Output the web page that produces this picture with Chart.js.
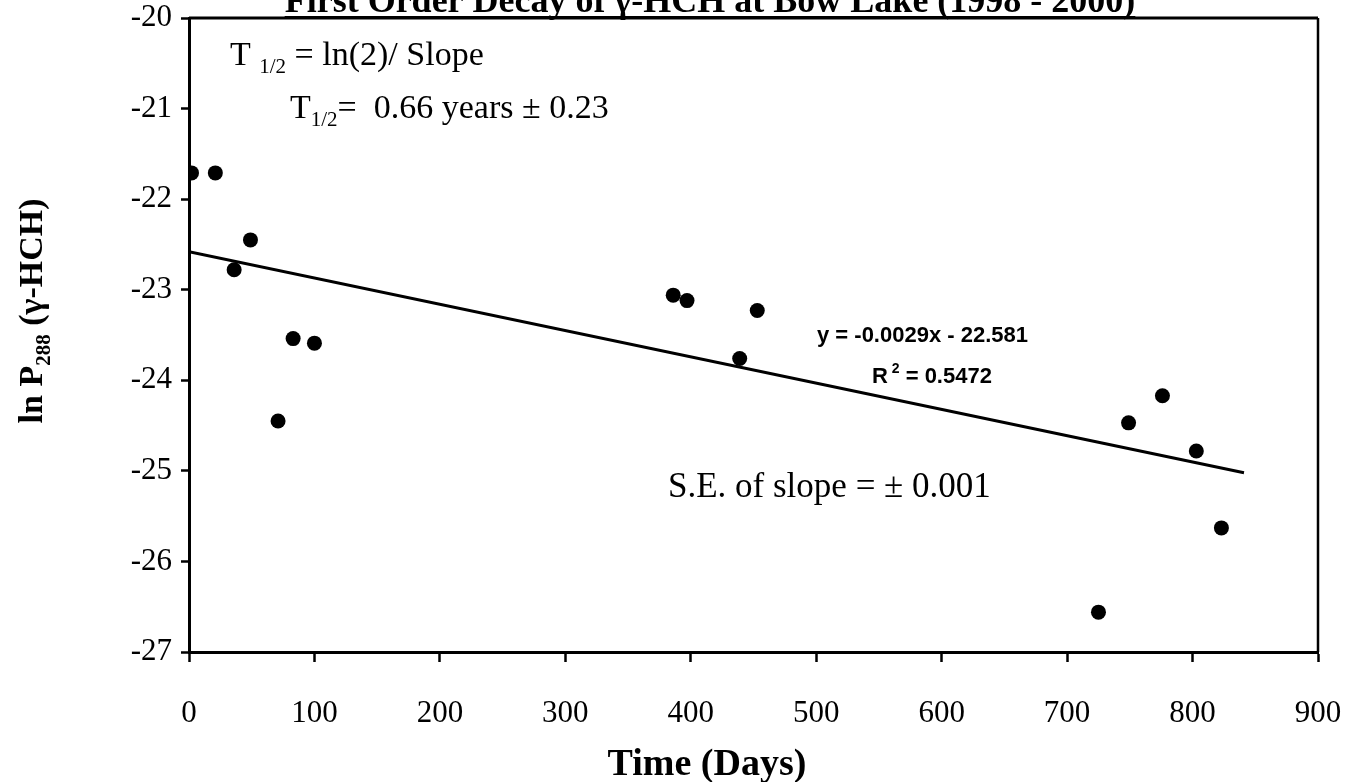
<!DOCTYPE html>
<html>
<head>
<meta charset="utf-8">
<title>First Order Decay of γ-HCH at Bow Lake</title>
<script src="https://cdn.jsdelivr.net/npm/chart.js@4/dist/chart.umd.min.js"></script>
<style>
  html, body { margin: 0; padding: 0; background: #fff; }
  #wrap { width: 1346px; height: 782px; position: relative; }
</style>
</head>
<body>
<div id="wrap"><canvas id="chart"></canvas></div>
<script>
// ── Data ─────────────────────────────────────────────────────
const days = [2, 21, 36, 49, 71, 83, 100, 386, 397, 439, 453, 725, 749, 776, 803, 823];
const lnP288 = [-21.71, -21.71, -22.78, -22.45, -24.45, -23.54, -23.59, -23.06, -23.12, -23.76, -23.23, -26.56, -24.47, -24.17, -24.78, -25.63];
const xTicks = [0, 100, 200, 300, 400, 500, 600, 700, 800, 900];
const yTicks = [-27, -26, -25, -24, -23, -22, -21, -20];

// regression shown on the figure: y = -0.0029x - 22.581
const slope = -0.0029;
const intercept = -22.581;
const fitRange = [0, 841];

const SERIF = '"Liberation Serif", "Times New Roman", serif';
const SANS = '"Liberation Sans", Arial, sans-serif';

// ── Text helpers ─────────────────────────────────────────────
// draw a run of [text, font, dy] pieces starting at x
function drawRuns(ctx, x, y, runs) {
    runs.forEach(([text, font, dy]) => {
        ctx.font = font;
        ctx.fillText(text, x, y + (dy || 0));
        x += ctx.measureText(text).width;
    });
    return x;
}
function runsWidth(ctx, runs) {
    let w = 0;
    runs.forEach(([text, font]) => { ctx.font = font; w += ctx.measureText(text).width; });
    return w;
}

// ── Frame + annotations plugin ───────────────────────────────
const decorPlugin = {
    id: 'decor',
    afterDraw(chart) {
        const { ctx, chartArea: a } = chart;
        ctx.save();
        ctx.strokeStyle = '#000';
        ctx.fillStyle = '#000';

        // top + right frame
        ctx.lineWidth = 3;
        ctx.beginPath();
        ctx.moveTo(a.left, a.top);
        ctx.lineTo(a.right, a.top);
        ctx.stroke();
        ctx.lineWidth = 2.5;
        ctx.beginPath();
        ctx.moveTo(a.right, a.top);
        ctx.lineTo(a.right, a.bottom);
        ctx.stroke();

        ctx.textBaseline = 'alphabetic';
        ctx.textAlign = 'left';

        // title (partly cut off at the top, underlined)
        ctx.font = 'bold 36px ' + SERIF;
        const title = 'First Order Decay of γ-HCH at Bow Lake (1998 - 2000)';
        const tw = ctx.measureText(title).width;
        const tx = 710 - tw / 2;
        ctx.fillText(title, tx, 12);
        ctx.lineWidth = 2;
        ctx.beginPath();
        ctx.moveTo(tx, 17);
        ctx.lineTo(tx + tw, 17);
        ctx.stroke();

        // half-life annotations
        const f34 = '34px ' + SERIF;
        const fSub = '21px ' + SERIF;
        drawRuns(ctx, 230, 65, [['T ', f34], ['1/2', fSub, 8], [' = ln(2)/ Slope', f34]]);
        drawRuns(ctx, 290, 118, [['T', f34], ['1/2', fSub, 8], ['=  0.66 years ± 0.23', f34]]);
        drawRuns(ctx, 668, 497, [['S.E. of slope = ± 0.001', '35px ' + SERIF]]);

        // regression equation
        const fEq = 'bold 22px ' + SANS;
        drawRuns(ctx, 817, 342, [['y = -0.0029x - 22.581', fEq]]);
        drawRuns(ctx, 872, 383, [['R', fEq], [' 2', 'bold 14px ' + SANS, -10], [' = 0.5472', fEq]]);

        // x axis title
        ctx.font = 'bold 38px ' + SERIF;
        ctx.textAlign = 'center';
        ctx.fillText('Time (Days)', 707, 775);

        // y axis title (rotated, with subscript)
        ctx.textAlign = 'left';
        const fy = 'bold 34px ' + SERIF;
        const fySub = 'bold 21px ' + SERIF;
        const yRuns = [['ln P', fy], ['288', fySub, 8], [' (γ-HCH)', fy]];
        const yw = runsWidth(ctx, yRuns);
        ctx.translate(42, 311);
        ctx.rotate(-Math.PI / 2);
        drawRuns(ctx, -yw / 2, 0, yRuns);

        ctx.restore();
    }
};

// ── Chart ────────────────────────────────────────────────────
const points = days.map((d, i) => ({ x: d, y: lnP288[i] }));
const fitLine = fitRange.map(x => ({ x: x, y: slope * x + intercept }));

new Chart(document.getElementById('chart'), {
    type: 'scatter',
    data: {
        datasets: [
            {
                label: 'ln P288',
                data: points,
                backgroundColor: '#000',
                borderWidth: 0,
                pointRadius: 7.5,
                pointHoverRadius: 7.5,
            },
            {
                label: 'Linear fit',
                type: 'line',
                data: fitLine,
                borderColor: '#000',
                borderWidth: 3,
                pointRadius: 0,
                fill: false,
            },
        ],
    },
    options: {
        responsive: true,
        maintainAspectRatio: false,
        animation: false,
        layout: { padding: { top: 18, right: 28, left: 0, bottom: 0 } },
        plugins: { legend: { display: false }, tooltip: { enabled: false } },
        scales: {
            x: {
                type: 'linear',
                min: 0,
                max: 900,
                afterBuildTicks: s => { s.ticks = xTicks.map(v => ({ value: v })); },
                afterFit: s => { s.height = 130; s.paddingLeft = 0; s.paddingRight = 0; },
                grid: { drawOnChartArea: false, drawTicks: true, tickLength: 10, tickColor: '#000', tickWidth: 2.5 },
                border: { display: true, color: '#000', width: 3 },
                ticks: { color: '#000', padding: 33, maxRotation: 0, font: { family: SERIF, size: 31 } },
            },
            y: {
                type: 'linear',
                min: -27,
                max: -20,
                afterBuildTicks: s => { s.ticks = yTicks.map(v => ({ value: v })); },
                afterFit: s => { s.width = 189; s.paddingTop = 0; s.paddingBottom = 0; },
                grid: { drawOnChartArea: false, drawTicks: true, tickLength: 8, tickColor: '#000', tickWidth: 2.5 },
                border: { display: true, color: '#000', width: 3 },
                ticks: { color: '#000', padding: 9, font: { family: SERIF, size: 31 } },
            },
        },
    },
    plugins: [decorPlugin],
});
</script>
</body>
</html>
